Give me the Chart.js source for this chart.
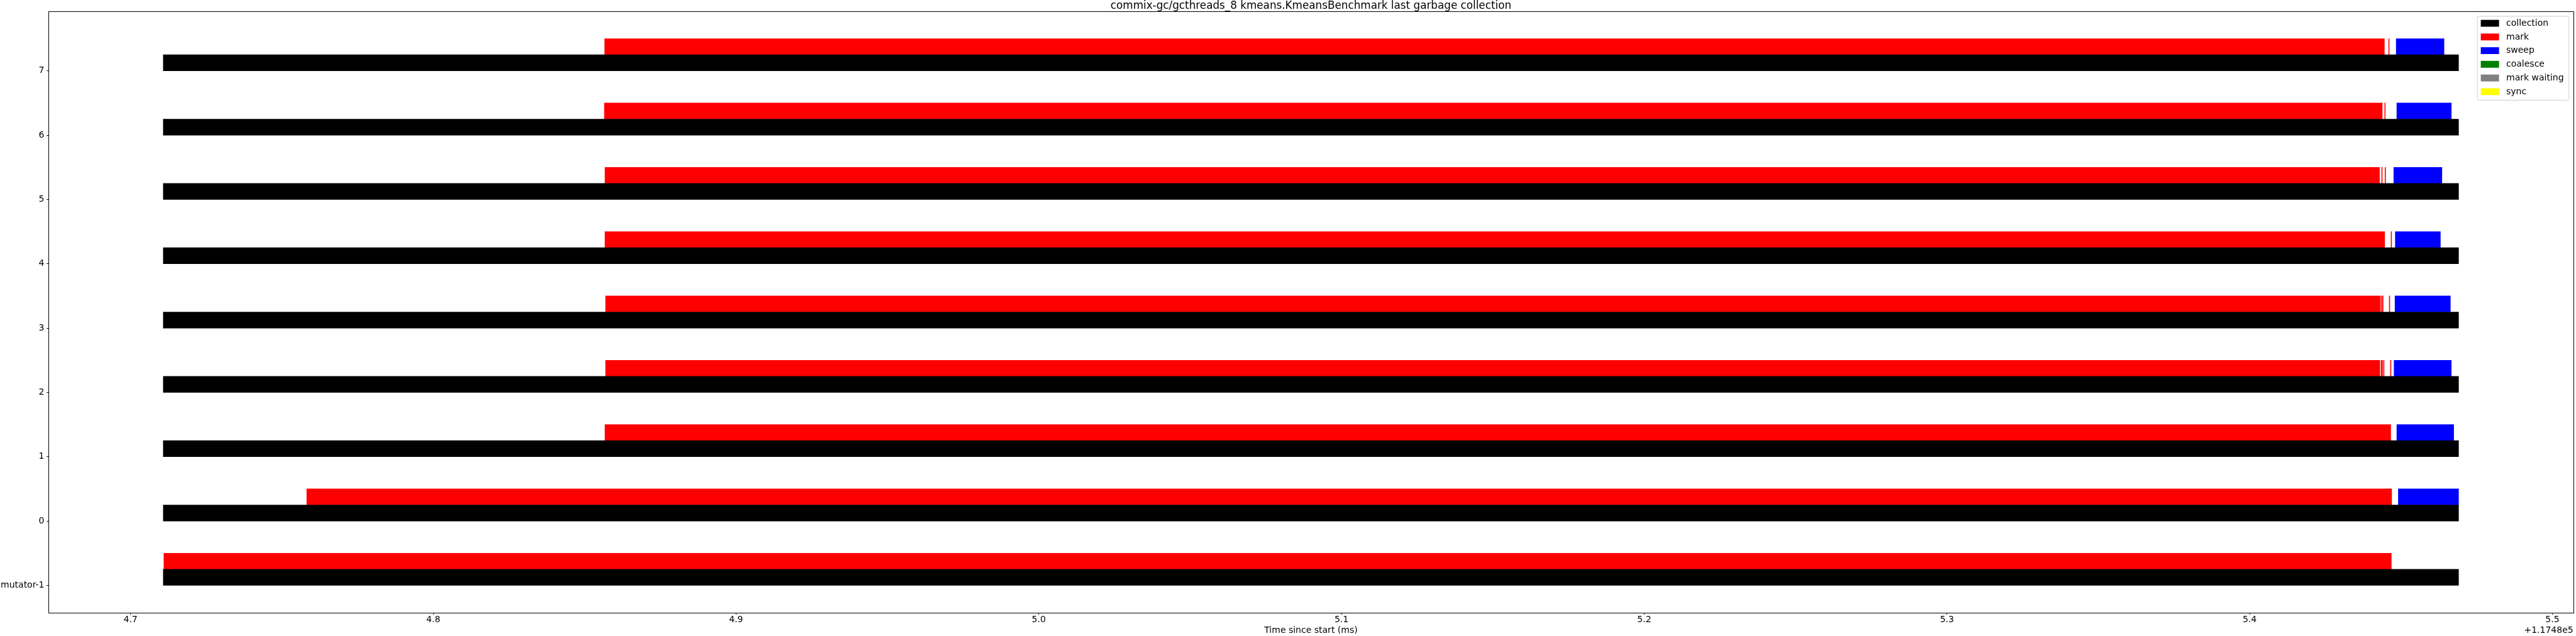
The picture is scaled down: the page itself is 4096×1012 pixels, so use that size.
<!DOCTYPE html>
<html>
<head>
<meta charset="utf-8">
<title>commix-gc last garbage collection</title>
<script src="https://cdn.jsdelivr.net/npm/chart.js@4.4.1/dist/chart.umd.min.js"></script>
<style>
  html, body { margin: 0; padding: 0; background: #fff; overflow: hidden; }
  #gcChart { display: block; }
</style>
</head>
<body>
<canvas id="gcChart" width="4096" height="1012"></canvas>
<script>
const chartTitle = 'commix-gc/gcthreads_8 kmeans.KmeansBenchmark last garbage collection';
const xAxisTitle = 'Time since start (ms)';

// rows (threads) bottom to top
const rowValues = [-1, 0, 1, 2, 3, 4, 5, 6, 7];
const rowLabels = ['mutator-1', '0', '1', '2', '3', '4', '5', '6', '7'];

// x ticks are shown relative to the offset
const timeOffset = 117480;
const offsetLabel = '+1.1748e5';
const xTickValues = [4.7, 4.8, 4.9, 5.0, 5.1, 5.2, 5.3, 5.4, 5.5];

// [start, end] in ms, one list of intervals per row
const collectionSpans = [
  [[117484.7108, 117485.4690]],
  [[117484.7108, 117485.4690]],
  [[117484.7108, 117485.4690]],
  [[117484.7108, 117485.4690]],
  [[117484.7108, 117485.4690]],
  [[117484.7108, 117485.4690]],
  [[117484.7108, 117485.4690]],
  [[117484.7108, 117485.4690]],
  [[117484.7108, 117485.4690]]
];

const markSpans = [
  [[117484.7110, 117485.4468]],
  [[117484.7582, 117485.4469]],
  [[117484.8567, 117485.4466]],
  [[117484.8569, 117485.4430], [117485.4434, 117485.4436], [117485.4437, 117485.4439],
   [117485.4442, 117485.4444], [117485.4465, 117485.4467]],
  [[117484.8569, 117485.4432], [117485.4435, 117485.4437], [117485.4439, 117485.4441],
   [117485.4461, 117485.4463]],
  [[117484.8567, 117485.4446], [117485.4467, 117485.4469]],
  [[117484.8567, 117485.4429], [117485.4436, 117485.4438], [117485.4447, 117485.4449]],
  [[117484.8565, 117485.4438], [117485.4446, 117485.4448]],
  [[117484.8566, 117485.4445], [117485.4459, 117485.4461]]
];

const sweepSpans = [
  [],
  [[117485.4491, 117485.4690]],
  [[117485.4486, 117485.4674]],
  [[117485.4477, 117485.4666]],
  [[117485.4480, 117485.4663]],
  [[117485.4481, 117485.4630]],
  [[117485.4476, 117485.4635]],
  [[117485.4486, 117485.4666]],
  [[117485.4484, 117485.4642]]
];

const coalesceSpans = [];
const markWaitingSpans = [];
const syncSpans = [];

// collection sits just above the row tick, the phases above it
const toBars = (spans, lane) => spans.flatMap((intervals, r) =>
  intervals.map((iv) => ({ x: iv, y: rowValues[r] + lane })));

const barCommon = {
  grouped: false,
  barPercentage: 1,
  categoryPercentage: 1,
  borderWidth: 0
};

const font = "'DejaVu Sans', sans-serif";
Chart.defaults.font.family = font;
Chart.defaults.font.size = 14;
Chart.defaults.color = '#000';

const overlay = {
  id: 'overlay',
  afterDraw(chart) {
    const { ctx, chartArea: a } = chart;
    ctx.save();

    // full frame like matplotlib spines
    ctx.strokeStyle = '#000';
    ctx.lineWidth = 1;
    const l = Math.round(a.left) + 0.5;
    const t = Math.round(a.top) + 0.5;
    ctx.strokeRect(l, t, Math.round(a.right) - Math.round(a.left), Math.round(a.bottom) - Math.round(a.top));

    // title centred over the plot
    ctx.fillStyle = '#000';
    ctx.font = '16.8px ' + font;
    ctx.textAlign = 'center';
    ctx.textBaseline = 'alphabetic';
    ctx.fillText(chartTitle, (a.left + a.right) / 2, 13.5);

    // axis offset text
    ctx.font = '14px ' + font;
    ctx.textAlign = 'right';
    ctx.textBaseline = 'middle';
    ctx.fillText(offsetLabel, a.right, 1003.4);

    // legend in the upper right corner
    const w = 145.7, h = 133.5;
    const bx = a.right - 7.3 - w;
    const by = a.top + 7.3;
    ctx.beginPath();
    ctx.roundRect(bx + 0.5, by + 0.5, w, h, 2);
    ctx.fillStyle = 'rgba(255,255,255,0.8)';
    ctx.fill();
    ctx.strokeStyle = '#cccccc';
    ctx.stroke();

    ctx.textAlign = 'left';
    chart.data.datasets.forEach((ds, i) => {
      const py = by + 6.2 + i * 21.76;
      ctx.fillStyle = ds.backgroundColor;
      ctx.fillRect(bx + 5.9, py, 29, 10.9);
      ctx.fillStyle = '#000';
      ctx.fillText(ds.label, bx + 46.3, py + 5.6);
    });
    ctx.restore();
  }
};

new Chart(document.querySelector('#gcChart'), {
  type: 'bar',
  data: {
    datasets: [
      { label: 'collection', data: toBars(collectionSpans, 0.125), backgroundColor: '#000000', ...barCommon },
      { label: 'mark', data: toBars(markSpans, 0.375), backgroundColor: '#ff0000', ...barCommon },
      { label: 'sweep', data: toBars(sweepSpans, 0.375), backgroundColor: '#0000ff', ...barCommon },
      { label: 'coalesce', data: toBars(coalesceSpans, 0.375), backgroundColor: '#008000', ...barCommon },
      { label: 'mark waiting', data: toBars(markWaitingSpans, 0.375), backgroundColor: '#808080', ...barCommon },
      { label: 'sync', data: toBars(syncSpans, 0.375), backgroundColor: '#ffff00', ...barCommon }
    ]
  },
  options: {
    indexAxis: 'y',
    responsive: false,
    animation: false,
    events: [],
    layout: { padding: { top: 18.1, right: 4.3, bottom: 0, left: 0 } },
    plugins: {
      legend: { display: false },
      title: { display: false },
      tooltip: { enabled: false }
    },
    scales: {
      x: {
        type: 'linear',
        position: 'bottom',
        min: timeOffset + 4.6729,
        max: timeOffset + 5.5069,
        afterBuildTicks: (scale) => { scale.ticks = xTickValues.map((v) => ({ value: timeOffset + v })); },
        afterFit: (scale) => { scale.height = 37.1; },
        border: { display: false },
        grid: { drawOnChartArea: false, drawTicks: true, tickLength: 3, color: '#000' },
        ticks: {
          padding: 0,
          maxRotation: 0,
          autoSkip: false,
          callback: (v) => (v - timeOffset).toFixed(1)
        },
        title: { display: true, text: xAxisTitle, padding: { top: 0, bottom: 0 } }
      },
      y: {
        type: 'linear',
        position: 'left',
        min: -1.425,
        max: 7.925,
        offset: false,
        afterBuildTicks: (scale) => { scale.ticks = rowValues.map((v) => ({ value: v })); },
        afterFit: (scale) => { scale.width = 77.2; },
        border: { display: false },
        grid: { offset: false, drawOnChartArea: false, drawTicks: true, tickLength: 3, color: '#000' },
        ticks: {
          padding: 3.7,
          autoSkip: false,
          callback: (v) => rowLabels[rowValues.indexOf(v)]
        }
      }
    }
  },
  plugins: [overlay]
});
</script>
</body>
</html>
